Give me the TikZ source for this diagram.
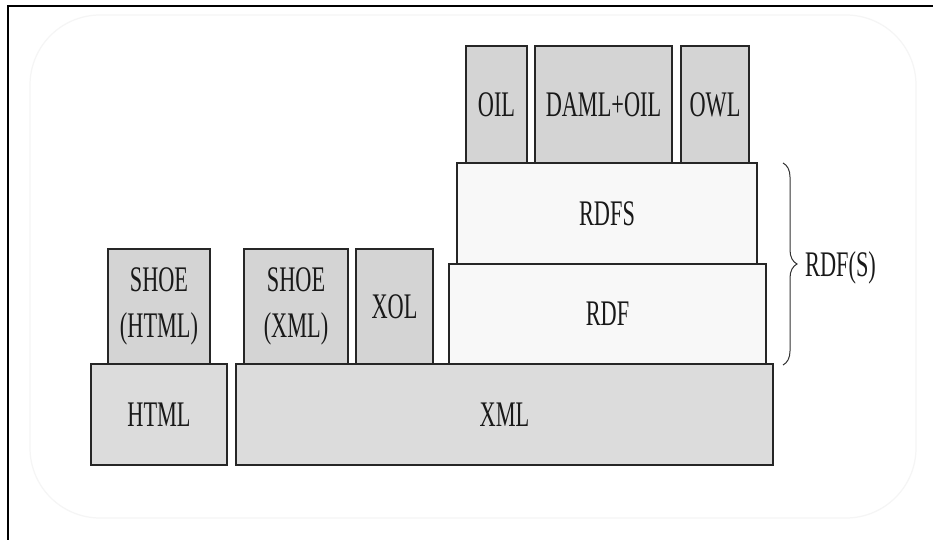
\documentclass[tikz,border=0pt]{standalone}
\usepackage{fontspec}
\setmainfont[FakeStretch=0.62]{Liberation Serif}
\usetikzlibrary{decorations.pathreplacing}
\definecolor{basegray}{HTML}{DCDCDC}
\definecolor{topgray}{HTML}{D4D4D4}
\definecolor{rdfwhite}{HTML}{F8F8F8}
\tikzset{
  layerbox/.style={draw=black!85, line width=1.6pt, rectangle, inner sep=0pt,
    align=center, font=\fontsize{36}{46}\selectfont, text=black!90},
  basebox/.style={layerbox, fill=basegray},
  langbox/.style={layerbox, fill=topgray},
  rdfbox/.style={layerbox, fill=rdfwhite},
}
\newcommand{\bx}[7]{% style, name, x1, y1, x2, y2, text
  \node[#1, minimum width={(#5-#3)*1pt}, minimum height={(#6-#4)*1pt}] (#2) at ({(#3+#5)/2},{(#4+#6)/2}) {#7};}
\begin{document}
\begin{tikzpicture}[x=1pt,y=-1pt]
\useasboundingbox (0,0) rectangle (933,540);
\fill[white] (0,0) rectangle (933,540);
% frame lines
\draw[line width=2pt, black] (8,540) -- (8,6.5) -- (933,6.5);
% faint rounded panel
\draw[black!4, line width=1.2pt, rounded corners=70pt] (30,15) rectangle (916,518);
% base layer
\bx{basebox}{html}{91}{364}{227}{465}{HTML}
\bx{basebox}{xml}{236}{364}{773}{465}{XML}
% second layer
\bx{langbox}{shoehtml}{108}{249}{210}{364}{SHOE\\(HTML)}
\bx{langbox}{shoexml}{244}{249}{348}{364}{SHOE\\(XML)}
\bx{langbox}{xol}{356}{249}{433}{364}{XOL}
\bx{rdfbox}{rdf}{449}{264}{766}{364}{RDF}
\bx{rdfbox}{rdfs}{457}{163}{757}{264}{RDFS}
% ontology languages
\bx{langbox}{oil}{466}{46}{527}{163}{OIL}
\bx{langbox}{daml}{535}{46}{672}{163}{DAML+OIL}
\bx{langbox}{owl}{681}{46}{749}{163}{OWL}
% brace
\coordinate (bracetop) at (783,163);
\coordinate (bracebot) at (783,365);
\draw[black!80, line width=1pt, decoration={brace, amplitude=14pt}, decorate] (bracetop) -- (bracebot);
\node[font=\fontsize{36}{46}\selectfont, text=black!90, anchor=west, inner sep=0pt] (rdfslabel) at (805,268) {RDF(S)};
\end{tikzpicture}
\end{document}
